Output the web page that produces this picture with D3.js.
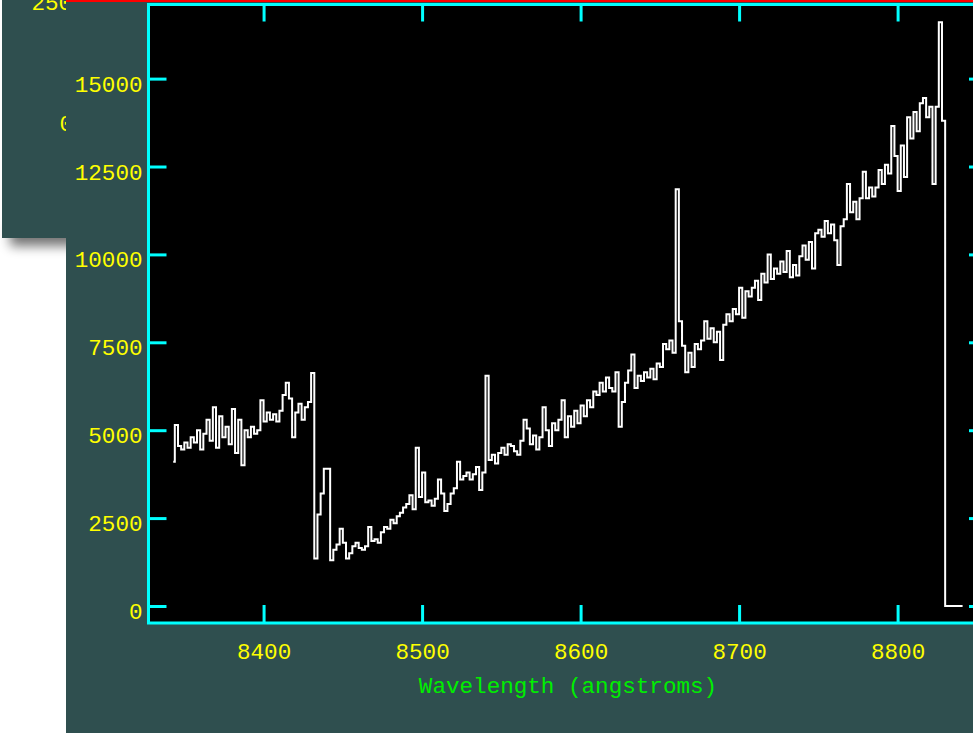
<!DOCTYPE html>
<html>
<head>
<meta charset="utf-8">
<script src="https://cdn.jsdelivr.net/npm/d3@7"></script>
<style>
  html, body { margin: 0; padding: 0; background: #ffffff; overflow: hidden; }
  svg { display: block; }
  text { font-family: "Liberation Mono", "DejaVu Sans Mono", monospace; }
</style>
</head>
<body>
<script>
// ---- data ----
const startWavelength = 8343;   // angstroms, first sample
const stepWavelength = 2;       // angstroms per sample
const flux = [
  4100, 5150, 4550, 4450, 4650, 4500, 4800, 4650, 5000, 4450,
  4900, 5300, 4700, 5650, 4500, 5400, 4800, 5100, 4600, 5600,
  4350, 5300, 4000, 5000, 4800, 5100, 4900, 5000, 5850, 5250,
  5500, 5300, 5450, 5250, 5550, 6000, 6350, 5900, 4800, 5500,
  5750, 5300, 5650, 5800, 6630, 1350, 2600, 3200, 3900, 3900,
  1300, 1600, 1750, 2200, 1800, 1350, 1500, 1700, 1800, 1650,
  1600, 1700, 2250, 1850, 1900, 1800, 2100, 2250, 2200, 2450,
  2350, 2550, 2650, 2800, 2900, 3150, 2750, 4500, 3100, 3800,
  2950, 3000, 2850, 3050, 3600, 3200, 2700, 2900, 3200, 3350,
  4100, 3600, 3700, 3800, 3600, 3750, 3950, 3300, 3800, 6550,
  4150, 4300, 4050, 4350, 4500, 4300, 4600, 4550, 4400, 4300,
  4700, 5300, 5050, 4600, 4850, 4450, 4800, 5650, 5000, 4550,
  5200, 5000, 5300, 5850, 4800, 5400, 5100, 5550, 5200, 5700,
  5400, 5850, 5650, 6100, 6000, 6350, 6100, 6500, 6200, 6100,
  6650, 5100, 5800, 6350, 6700, 7150, 6200, 6550, 6400, 6650,
  6500, 6750, 6450, 6900, 6800, 7450, 7300, 7550, 7200, 11850,
  8100, 7400, 6650, 7200, 6800, 7450, 7300, 7550, 8100, 7600,
  7900, 7500, 7800, 7000, 8000, 8300, 8100, 8450, 8300, 9050,
  8200, 8950, 8800, 9050, 9250, 8700, 9450, 9200, 10000, 9300,
  9600, 9450, 9800, 9500, 10100, 9350, 9700, 9400, 9950, 10250,
  9850, 10350, 9600, 10600, 10700, 10500, 10950, 10600, 10850, 10400,
  9700, 10800, 11000, 12000, 11200, 11500, 11000, 11600, 12350, 11600,
  11900, 11650, 11900, 12400, 12000, 12550, 12300, 13650, 12800, 11800,
  13100, 12200, 13900, 13300, 14050, 13500, 14300, 14450, 13900, 14200,
  12000, 14200, 16600, 13800, 0, 0, 0, 0, 0, 0
];
const xTicks = [8400, 8500, 8600, 8700, 8800];
const yTicks = [0, 2500, 5000, 7500, 10000, 12500, 15000];
const xTitle = "Wavelength (angstroms)";

(function () {
  const spectrum = flux.map((f, i) => ({ w: startWavelength + i * stepWavelength, f: f }));

  const W = 973, H = 733;
  const svg = d3.select("body").append("svg").attr("width", W).attr("height", H);

  const defs = svg.append("defs");
  defs.append("filter").attr("id", "shadow").attr("x", "-50%").attr("y", "-100%")
    .attr("width", "200%").attr("height", "300%")
    .append("feGaussianBlur").attr("stdDeviation", 6);

  const slate = "#2f4f4f";
  const cyan = "#00ffff";
  const yellow = "#ffff00";
  const fontSize = 22.6;

  // back window (partially hidden behind the main one)
  svg.append("rect").attr("x", 10).attr("y", 224).attr("width", 80).attr("height", 22)
    .attr("fill", "#000").attr("opacity", 0.55).attr("filter", "url(#shadow)");
  svg.append("rect").attr("x", 2).attr("y", 0).attr("width", 120).attr("height", 238).attr("fill", slate);
  svg.append("text").attr("x", 31.5).attr("y", 10).attr("fill", yellow)
    .attr("font-size", fontSize).text("25000");
  svg.append("text").attr("x", 59.5).attr("y", 131).attr("fill", yellow)
    .attr("font-size", fontSize).text("0");

  // main window
  svg.append("rect").attr("x", 66).attr("y", 0).attr("width", W - 66).attr("height", H).attr("fill", slate);
  svg.append("rect").attr("x", 66).attr("y", 0).attr("width", W - 66).attr("height", 2).attr("fill", "#ff0000");

  const pLeft = 148.5, pRight = 987, pTop = 4.5, pBottom = 623;

  const x = d3.scaleLinear().domain([8327.4, 8856.4]).range([pLeft, pRight]);
  const y = d3.scaleLinear().domain([-484, 17108]).range([pBottom, pTop]);

  svg.append("rect").attr("x", pLeft).attr("y", pTop).attr("width", pRight - pLeft)
    .attr("height", pBottom - pTop).attr("fill", "#000");

  const line = d3.line().x(d => x(d.w)).y(d => y(d.f)).curve(d3.curveStep);
  svg.append("path").datum(spectrum).attr("d", line)
    .attr("fill", "none").attr("stroke", "#ffffff").attr("stroke-width", 2)
    .attr("stroke-linejoin", "miter");

  function styleAxis(g) {
    g.select(".domain").remove();
    g.selectAll(".tick line").attr("stroke", cyan).attr("stroke-width", 3);
    g.selectAll(".tick text").attr("fill", yellow).attr("font-size", fontSize)
      .attr("font-family", "Liberation Mono, DejaVu Sans Mono, monospace");
  }

  const gLeft = svg.append("g").attr("transform", `translate(${pLeft},0)`)
    .call(d3.axisLeft(y).tickValues(yTicks).tickSizeInner(-18).tickSizeOuter(0).tickPadding(6).tickFormat(d3.format("d")));
  styleAxis(gLeft);
  gLeft.selectAll(".tick text").attr("dy", 12.5);

  const gRight = svg.append("g").attr("transform", `translate(${pRight},0)`)
    .call(d3.axisRight(y).tickValues(yTicks).tickSizeInner(-18).tickSizeOuter(0).tickFormat(""));
  styleAxis(gRight);

  const gBottom = svg.append("g").attr("transform", `translate(0,${pBottom})`)
    .call(d3.axisBottom(x).tickValues(xTicks).tickSizeInner(-18).tickSizeOuter(0).tickFormat(d3.format("d")));
  styleAxis(gBottom);
  gBottom.selectAll(".tick text").attr("y", 36).attr("dy", 0);

  const gTop = svg.append("g").attr("transform", `translate(0,${pTop})`)
    .call(d3.axisTop(x).tickValues(xTicks).tickSizeInner(-17).tickSizeOuter(0).tickFormat(""));
  styleAxis(gTop);

  svg.append("rect").attr("x", pLeft).attr("y", pTop).attr("width", pRight - pLeft)
    .attr("height", pBottom - pTop).attr("fill", "none").attr("stroke", cyan).attr("stroke-width", 3);

  svg.append("text").attr("x", 568).attr("y", 693).attr("text-anchor", "middle")
    .attr("fill", "#00ee00").attr("font-size", fontSize).text(xTitle);
})();
</script>
</body>
</html>
